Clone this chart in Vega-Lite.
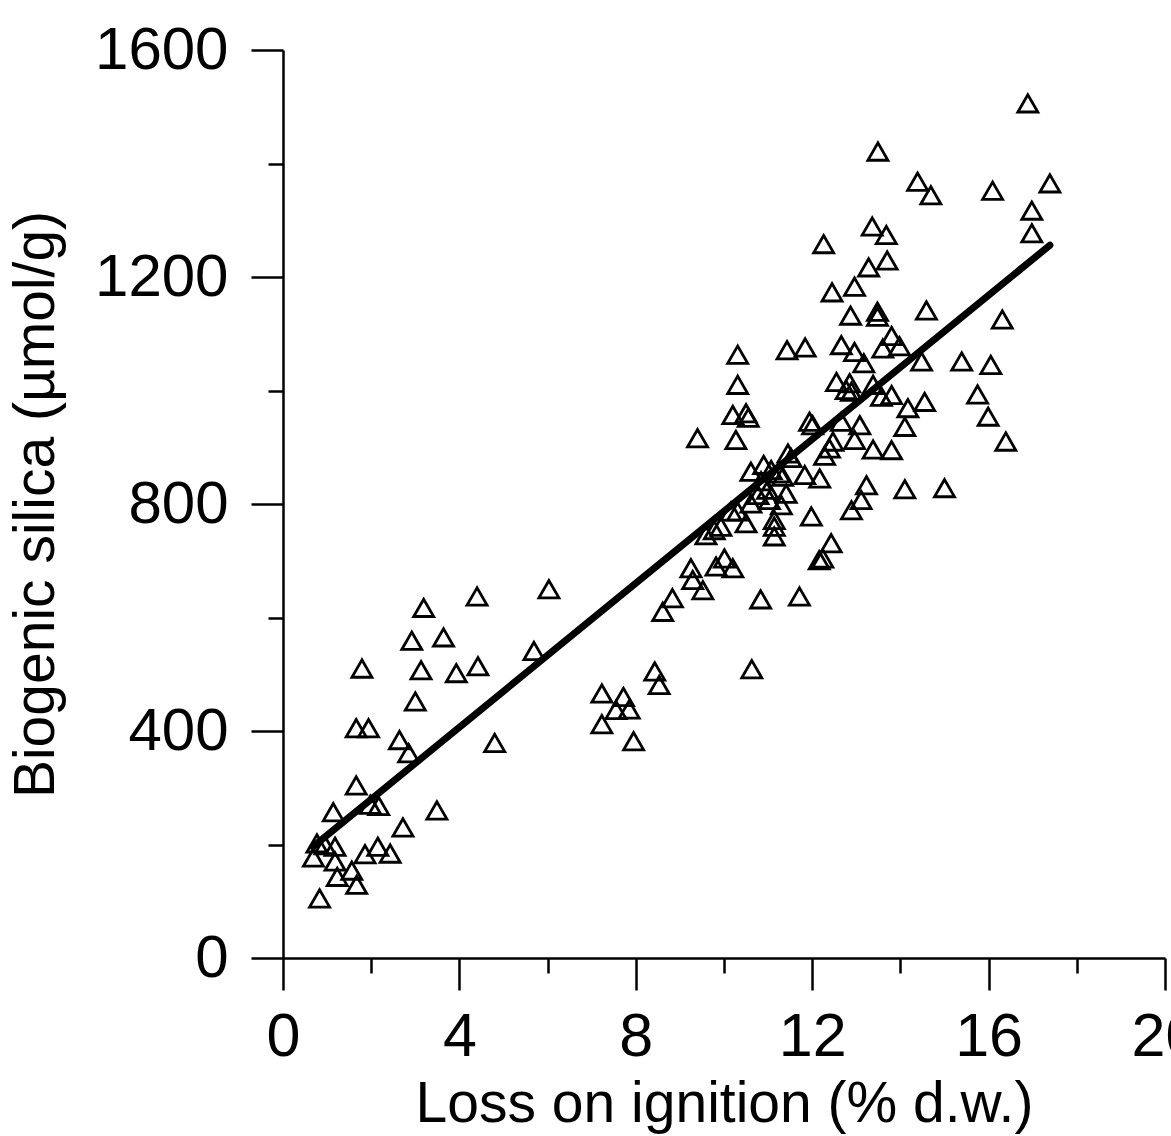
{
  "$schema": "https://vega.github.io/schema/vega-lite/v6.json",
  "width": 882,
  "height": 908,
  "autosize": {"type": "none"},
  "padding": {"left": 283, "top": 50, "right": 6, "bottom": 178},
  "background": "white",
  "config": {
    "view": {"stroke": null},
    "axis": {
      "grid": false,
      "domainColor": "black",
      "tickColor": "black",
      "labelColor": "black",
      "titleColor": "black",
      "labelFont": "Liberation Sans",
      "titleFont": "Liberation Sans",
      "titleFontWeight": "normal"
    }
  },
  "datasets": {
    "points": [
      {"loi": 3.19, "bsi": 617}, {"loi": 4.40, "bsi": 637}, {"loi": 6.03, "bsi": 650}, {"loi": 2.92, "bsi": 559},
      {"loi": 3.64, "bsi": 565}, {"loi": 1.79, "bsi": 510}, {"loi": 3.13, "bsi": 507}, {"loi": 3.93, "bsi": 502},
      {"loi": 4.42, "bsi": 514}, {"loi": 5.69, "bsi": 541}, {"loi": 3.00, "bsi": 452}, {"loi": 1.66, "bsi": 405},
      {"loi": 1.94, "bsi": 405}, {"loi": 2.64, "bsi": 384}, {"loi": 2.85, "bsi": 361}, {"loi": 4.80, "bsi": 379},
      {"loi": 1.66, "bsi": 304}, {"loi": 1.98, "bsi": 270}, {"loi": 2.17, "bsi": 268}, {"loi": 1.14, "bsi": 257},
      {"loi": 3.49, "bsi": 260}, {"loi": 2.72, "bsi": 230}, {"loi": 0.77, "bsi": 202}, {"loi": 0.95, "bsi": 199},
      {"loi": 1.18, "bsi": 196}, {"loi": 0.69, "bsi": 177}, {"loi": 1.86, "bsi": 183}, {"loi": 2.15, "bsi": 196},
      {"loi": 2.43, "bsi": 184}, {"loi": 1.18, "bsi": 170}, {"loi": 1.56, "bsi": 154}, {"loi": 1.23, "bsi": 143},
      {"loi": 1.67, "bsi": 129}, {"loi": 0.83, "bsi": 105},
      {"loi": 9.25, "bsi": 687}, {"loi": 9.29, "bsi": 666}, {"loi": 9.52, "bsi": 648}, {"loi": 9.82, "bsi": 690},
      {"loi": 10.01, "bsi": 704}, {"loi": 10.20, "bsi": 687}, {"loi": 8.83, "bsi": 634}, {"loi": 8.61, "bsi": 610},
      {"loi": 10.83, "bsi": 632}, {"loi": 11.71, "bsi": 637}, {"loi": 8.43, "bsi": 505}, {"loi": 8.53, "bsi": 481},
      {"loi": 10.63, "bsi": 509}, {"loi": 7.23, "bsi": 466}, {"loi": 7.72, "bsi": 460}, {"loi": 7.55, "bsi": 437},
      {"loi": 7.85, "bsi": 438}, {"loi": 7.23, "bsi": 412}, {"loi": 7.95, "bsi": 382},
      {"loi": 10.31, "bsi": 1063}, {"loi": 10.31, "bsi": 1010}, {"loi": 10.20, "bsi": 957}, {"loi": 10.50, "bsi": 960},
      {"loi": 10.55, "bsi": 952}, {"loi": 9.40, "bsi": 916}, {"loi": 10.27, "bsi": 913}, {"loi": 11.43, "bsi": 1071},
      {"loi": 11.84, "bsi": 1076}, {"loi": 12.66, "bsi": 1080}, {"loi": 12.96, "bsi": 1068}, {"loi": 13.17, "bsi": 1048},
      {"loi": 13.60, "bsi": 1074}, {"loi": 13.80, "bsi": 1096}, {"loi": 13.98, "bsi": 1078}, {"loi": 14.48, "bsi": 1051},
      {"loi": 12.55, "bsi": 1015}, {"loi": 12.85, "bsi": 1013}, {"loi": 12.77, "bsi": 1001}, {"loi": 12.89, "bsi": 998},
      {"loi": 13.38, "bsi": 1010}, {"loi": 13.57, "bsi": 989}, {"loi": 13.80, "bsi": 992}, {"loi": 14.17, "bsi": 969},
      {"loi": 14.55, "bsi": 980}, {"loi": 14.10, "bsi": 936}, {"loi": 11.94, "bsi": 945}, {"loi": 12.01, "bsi": 939},
      {"loi": 12.66, "bsi": 945}, {"loi": 13.08, "bsi": 939}, {"loi": 12.96, "bsi": 913}, {"loi": 12.47, "bsi": 910},
      {"loi": 12.39, "bsi": 898}, {"loi": 12.28, "bsi": 885}, {"loi": 13.38, "bsi": 896}, {"loi": 13.80, "bsi": 895},
      {"loi": 11.45, "bsi": 889}, {"loi": 11.52, "bsi": 881}, {"loi": 10.61, "bsi": 857}, {"loi": 10.90, "bsi": 869},
      {"loi": 11.07, "bsi": 860}, {"loi": 11.26, "bsi": 854}, {"loi": 11.33, "bsi": 848}, {"loi": 11.83, "bsi": 851},
      {"loi": 12.17, "bsi": 845}, {"loi": 10.99, "bsi": 825}, {"loi": 11.41, "bsi": 818}, {"loi": 10.77, "bsi": 816},
      {"loi": 10.61, "bsi": 801}, {"loi": 11.03, "bsi": 807}, {"loi": 11.30, "bsi": 798}, {"loi": 10.84, "bsi": 840},
      {"loi": 10.31, "bsi": 787}, {"loi": 10.50, "bsi": 766}, {"loi": 10.16, "bsi": 787}, {"loi": 9.59, "bsi": 745},
      {"loi": 9.93, "bsi": 760}, {"loi": 9.78, "bsi": 754}, {"loi": 11.14, "bsi": 772}, {"loi": 11.14, "bsi": 760},
      {"loi": 11.14, "bsi": 743}, {"loi": 11.98, "bsi": 778}, {"loi": 13.23, "bsi": 833}, {"loi": 13.11, "bsi": 807},
      {"loi": 12.89, "bsi": 789}, {"loi": 14.10, "bsi": 826}, {"loi": 12.43, "bsi": 731}, {"loi": 12.24, "bsi": 704},
      {"loi": 12.16, "bsi": 701},
      {"loi": 13.49, "bsi": 1421}, {"loi": 14.39, "bsi": 1368}, {"loi": 14.69, "bsi": 1344}, {"loi": 16.09, "bsi": 1352},
      {"loi": 17.39, "bsi": 1365}, {"loi": 16.98, "bsi": 1317}, {"loi": 16.98, "bsi": 1277}, {"loi": 13.36, "bsi": 1289},
      {"loi": 13.68, "bsi": 1274}, {"loi": 12.26, "bsi": 1258}, {"loi": 13.28, "bsi": 1217}, {"loi": 13.70, "bsi": 1229},
      {"loi": 12.45, "bsi": 1173}, {"loi": 12.96, "bsi": 1183}, {"loi": 12.87, "bsi": 1132}, {"loi": 13.48, "bsi": 1139},
      {"loi": 13.48, "bsi": 1130}, {"loi": 14.59, "bsi": 1141}, {"loi": 16.31, "bsi": 1125}, {"loi": 15.39, "bsi": 1051},
      {"loi": 16.05, "bsi": 1045}, {"loi": 15.75, "bsi": 993}, {"loi": 15.99, "bsi": 954}, {"loi": 16.39, "bsi": 910},
      {"loi": 16.89, "bsi": 1506}, {"loi": 15.00, "bsi": 828}
    ],
    "fit": [
      {"loi": 0.68, "bsi": 196},
      {"loi": 17.39, "bsi": 1256}
    ]
  },
  "layer": [
    {
      "data": {"name": "points"},
      "mark": {"type": "point", "shape": "triangle-up", "size": 400, "filled": false, "stroke": "black", "strokeWidth": 2.8, "opacity": 1},
      "encoding": {
        "x": {
          "field": "loi",
          "type": "quantitative",
          "scale": {"domain": [0, 20], "nice": false, "zero": false},
          "axis": {
            "title": "Loss on ignition (% d.w.)",
            "format": "d",
            "values": [0, 2, 4, 6, 8, 10, 12, 14, 16, 18, 20],
            "labelExpr": "datum.value % 4 === 0 ? datum.label : ''",
            "tickSize": {"condition": {"test": "datum.value % 4 === 0", "value": 32}, "value": 15},
            "tickWidth": 2.5,
            "domainWidth": 2.5,
            "labelFontSize": 61,
            "titleFontSize": 57,
            "labelPadding": 17,
            "titlePadding": 9,
            "labelFlush": false,
            "labelOverlap": false
          }
        },
        "y": {
          "field": "bsi",
          "type": "quantitative",
          "scale": {"domain": [0, 1600], "nice": false, "zero": false},
          "axis": {
            "title": "Biogenic silica (µmol/g)",
            "format": "d",
            "values": [0, 200, 400, 600, 800, 1000, 1200, 1400, 1600],
            "labelExpr": "datum.value % 400 === 0 ? datum.label : ''",
            "tickSize": {"condition": {"test": "datum.value % 400 === 0", "value": 32}, "value": 15},
            "tickWidth": 2.5,
            "domainWidth": 2.5,
            "labelFontSize": 60,
            "titleFontSize": 57,
            "labelPadding": 23,
            "titlePadding": 29,
            "labelFlush": false,
            "labelOverlap": false
          }
        }
      }
    },
    {
      "data": {"name": "fit"},
      "mark": {"type": "line", "stroke": "black", "strokeWidth": 7, "strokeCap": "round"},
      "encoding": {
        "x": {"field": "loi", "type": "quantitative"},
        "y": {"field": "bsi", "type": "quantitative"}
      }
    }
  ]
}
